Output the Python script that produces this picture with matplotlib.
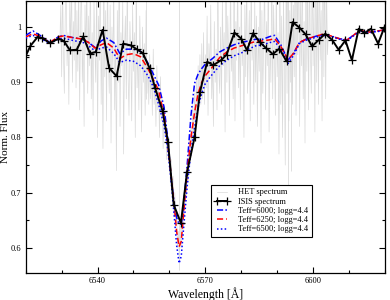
import numpy as np
import matplotlib
matplotlib.use('Agg')
import matplotlib.pyplot as plt
from matplotlib.ticker import MultipleLocator

plt.rcParams['font.family'] = ['Liberation Serif', 'DejaVu Serif']

# ------------------------------------------------------------
# HET spectrum (noisy, high resolution), 0.25 A steps from 6529.5
# ------------------------------------------------------------
het_start, het_step = 6529.5, 0.25
het_flux = [
    0.97, 1.04, 0.91, 1.08, 0.95, 0.88, 1.02, 1.10, 0.93, 0.99, 0.86, 1.05, 0.96, 1.09, 0.90, 1.01, 0.94, 1.07, 0.89, 1.03,
    0.92, 1.06, 0.85, 1.00, 1.10, 0.90, 0.97, 0.82, 1.04, 0.95, 1.08, 0.88, 1.02, 0.93, 1.11, 0.87, 0.99, 0.84, 1.05, 0.96,
    0.90, 1.09, 0.80, 1.02, 0.94, 1.12, 0.86, 0.98, 0.78, 1.06, 0.91, 1.03, 0.83, 1.10, 0.95, 0.88, 1.04, 0.79, 1.00, 0.92,
    1.07, 0.85, 0.97, 0.74, 1.03, 0.90, 1.09, 0.82, 0.99, 0.93, 1.05, 0.77, 0.96, 1.02, 0.87, 1.08, 0.91, 0.84, 1.01, 0.95,
    0.83, 1.04, 0.92, 0.99, 0.80, 1.06, 0.89, 0.96, 0.85, 1.02, 0.93, 0.81, 1.00, 0.90, 0.97, 0.84, 1.03, 0.88, 0.94, 0.86,
    0.95, 0.87, 0.93, 0.84, 0.96, 0.86, 0.90, 0.82, 0.93, 0.85, 0.89, 0.80, 0.91, 0.83, 0.87, 0.78, 0.86, 0.80, 0.84, 0.76,
    0.81, 0.76, 0.79, 0.72, 0.76, 0.70, 0.73, 0.66, 0.70, 0.64, 0.66, 0.60, 0.63, 0.58, 0.64, 0.60, 0.66, 0.63, 0.70, 0.67,
    0.73, 0.69, 0.76, 0.72, 0.80, 0.75, 0.82, 0.78, 0.86, 0.80, 0.88, 0.82, 0.91, 0.84, 0.93, 0.85, 0.95, 0.86, 0.97, 0.87,
    0.99, 0.86, 0.95, 0.89, 1.02, 0.84, 0.97, 0.91, 1.04, 0.87, 0.94, 0.82, 1.01, 0.90, 0.96, 0.85, 1.06, 0.92, 0.88, 1.00,
    0.86, 1.05, 0.93, 0.99, 0.81, 1.08, 0.90, 1.02, 0.95, 0.84, 1.10, 0.92, 0.98, 0.87, 1.06, 0.83, 1.01, 0.94, 1.09, 0.89,
    1.00, 0.85, 1.07, 0.93, 0.98, 0.80, 1.04, 0.91, 1.11, 0.88, 0.96, 1.03, 0.83, 1.08, 0.94, 0.99, 0.86, 1.05, 0.90, 1.02,
    0.82, 1.00, 0.92, 1.07, 0.79, 1.03, 0.88, 0.97, 1.10, 0.85, 1.01, 0.93, 1.06, 0.81, 0.98, 0.90, 1.12, 0.87, 1.04, 0.95,
    0.84, 1.08, 0.91, 0.99, 0.77, 1.13, 0.86, 1.02, 0.80, 1.06, 0.93, 0.75, 1.10, 0.88, 1.15, 0.83, 1.03, 0.90, 1.17, 0.86,
    1.04, 0.91, 1.16, 0.84, 1.08, 0.95, 1.20, 0.82, 1.05, 0.93, 1.13, 0.87, 1.01, 0.79, 1.18, 0.92, 1.07, 0.85, 1.11, 0.96,
    0.88, 1.14, 0.93, 1.05, 0.81, 1.19, 0.90, 1.09, 0.86, 1.16, 0.94, 1.03, 0.83, 1.21, 0.91, 1.12, 0.87, 1.07, 0.95, 0.99,
]
het_wl = het_start + het_step * np.arange(len(het_flux))
# isolated spikes in the HET data
spike_wl = [6553.4, 6562.7, 6593.0, 6593.8]
spike_lo = [0.87, 0.56, 0.68, 0.74]

# ------------------------------------------------------------
# ISIS spectrum
# ------------------------------------------------------------
isis_wl = [6519.8, 6521.3, 6523.3, 6524.6, 6526.75, 6529.1, 6530.6, 6532.3,
           6534.2, 6536.0, 6537.9, 6539.5, 6541.4, 6543.2, 6545.3, 6547.1,
           6549.2, 6550.9, 6552.6, 6554.5, 6556.0, 6558.1, 6559.6, 6561.2,
           6563.2, 6564.9, 6567.0, 6568.5, 6570.5, 6572.2, 6574.4, 6575.9,
           6578.1, 6580.0, 6581.6, 6583.3, 6585.1, 6586.9, 6588.8, 6590.6,
           6592.6, 6594.3, 6596.2, 6597.9, 6599.7, 6601.6, 6603.4, 6605.4,
           6607.1, 6609.0, 6610.8, 6612.7, 6614.3, 6616.1, 6618.1, 6619.8]
isis_flux = [0.945, 0.966, 0.982, 0.980, 0.971, 0.979, 0.975, 0.958,
             0.959, 0.983, 0.952, 0.955, 0.995, 0.926, 0.911, 0.970,
             0.967, 0.960, 0.953, 0.925, 0.890, 0.848, 0.792, 0.678,
             0.645, 0.737, 0.800, 0.882, 0.937, 0.931, 0.940, 0.950,
             0.990, 0.979, 0.958, 0.989, 0.973, 0.962, 0.951, 0.961,
             0.938, 1.009, 0.999, 0.987, 0.965, 0.977, 0.988, 0.976,
             0.959, 0.976, 0.940, 0.997, 0.989, 0.997, 0.970, 0.999]

# ------------------------------------------------------------
# Model spectra
# ------------------------------------------------------------
mod_wl = [6520, 6522, 6524, 6526.7, 6529, 6530.5, 6533, 6536, 6537.5, 6539.3,
          6541, 6542.5, 6544.5, 6546.2, 6548, 6550, 6552, 6554, 6555.5, 6557,
          6558.5, 6559.5, 6560.5, 6561.5, 6562, 6562.7, 6563.3, 6564, 6565, 6566,
          6567, 6568, 6569, 6570, 6572, 6574, 6576, 6578, 6580, 6582,
          6584, 6586, 6588, 6589.3, 6591, 6593, 6594.5, 6596.2, 6598, 6600,
          6602.7, 6605, 6607.3, 6609.5, 6611, 6613, 6615.5, 6618, 6620]
mod_6000 = [0.985, 0.993, 0.985, 0.972, 0.982, 0.985, 0.981, 0.978, 0.972, 0.963,
            0.975, 0.980, 0.972, 0.952, 0.960, 0.960, 0.956, 0.935, 0.915, 0.895,
            0.855, 0.800, 0.725, 0.672, 0.655, 0.643, 0.643, 0.680, 0.755, 0.840,
            0.898, 0.915, 0.925, 0.933, 0.943, 0.955, 0.962, 0.968, 0.972, 0.975,
            0.978, 0.978, 0.983, 0.985, 0.968, 0.940, 0.952, 0.972, 0.978, 0.982,
            0.987, 0.984, 0.979, 0.977, 0.984, 0.994, 0.991, 0.993, 0.995]
mod_6250 = [0.982, 0.988, 0.983, 0.972, 0.982, 0.984, 0.981, 0.978, 0.972, 0.962,
            0.968, 0.972, 0.962, 0.943, 0.950, 0.952, 0.946, 0.925, 0.905, 0.885,
            0.840, 0.790, 0.730, 0.665, 0.630, 0.602, 0.612, 0.665, 0.740, 0.800,
            0.845, 0.880, 0.900, 0.912, 0.928, 0.945, 0.955, 0.962, 0.966, 0.970,
            0.974, 0.975, 0.977, 0.979, 0.965, 0.941, 0.952, 0.972, 0.978, 0.982,
            0.987, 0.984, 0.979, 0.977, 0.984, 0.994, 0.991, 0.993, 0.995]
mod_6500 = [0.980, 0.985, 0.980, 0.970, 0.978, 0.980, 0.976, 0.972, 0.966, 0.957,
            0.962, 0.964, 0.952, 0.936, 0.940, 0.938, 0.930, 0.912, 0.892, 0.860,
            0.822, 0.780, 0.720, 0.645, 0.605, 0.572, 0.585, 0.640, 0.715, 0.775,
            0.818, 0.855, 0.880, 0.898, 0.915, 0.930, 0.940, 0.948, 0.953, 0.960,
            0.966, 0.968, 0.972, 0.974, 0.960, 0.934, 0.948, 0.970, 0.976, 0.980,
            0.985, 0.983, 0.978, 0.976, 0.983, 0.992, 0.990, 0.992, 0.994]

# ============================================================
fig = plt.figure(figsize=(3.9, 3.0), dpi=100)
ax = fig.add_axes([0.066, 0.091, 0.921, 0.907])

ax.plot(het_wl, het_flux, '-', color='#dadada', lw=0.5, label='HET spectrum', zorder=1)
ax.vlines(spike_wl, spike_lo, 1.2, color='#dadada', lw=0.6, zorder=1)
ax.plot(isis_wl, isis_flux, 'k-', marker='+', ms=6, mew=0.9, lw=1.4,
        label='ISIS spectrum', zorder=4)
ax.plot(mod_wl, mod_6000, color='#0000ff', lw=1.1, ls=(0, (4, 1.5, 1, 1.5)),
        label='Teff=6000; logg=4.4', zorder=3)
ax.plot(mod_wl, mod_6250, color='#ff0000', lw=1.1, ls=(0, (4, 2)),
        label='Teff=6250; logg=4.4', zorder=3)
ax.plot(mod_wl, mod_6500, color='#0000ff', lw=1.1, ls=(0, (1, 1.5)),
        label='Teff=6500; logg=4.4', zorder=3)

ax.set_xlim(6520, 6620)
ax.set_ylim(0.555, 1.048)
ax.xaxis.set_major_locator(MultipleLocator(30))
ax.xaxis.set_minor_locator(MultipleLocator(10))
ax.yaxis.set_minor_locator(MultipleLocator(0.05))
ax.set_yticks([0.6, 0.7, 0.8, 0.9, 1.0])
ax.set_yticklabels(['0.6', '0.7', '0.8', '0.9', '1'])
ax.tick_params(which='both', direction='in', top=True, right=True, labelsize=6, pad=3)
ax.tick_params(which='major', length=4.5, width=0.8)
ax.tick_params(which='minor', length=2.5, width=0.8)
for sp in ax.spines.values():
    sp.set_linewidth(0.9)

ax.set_xlabel('Wavelength [Å]', fontsize=8.5, labelpad=2)
ax.set_ylabel('Norm. Flux', fontsize=8)
ax.yaxis.set_label_coords(-0.043, 0.5)

leg = ax.legend(loc='upper left', bbox_to_anchor=(0.515, 0.322), borderaxespad=0,
                fontsize=6, numpoints=2, handlelength=1.9, labelspacing=0.15,
                handletextpad=1.0, borderpad=0.4, fancybox=False, framealpha=1)
leg.get_frame().set_edgecolor('black')
leg.get_frame().set_linewidth(0.8)

fig.savefig('out.png', dpi=100)
